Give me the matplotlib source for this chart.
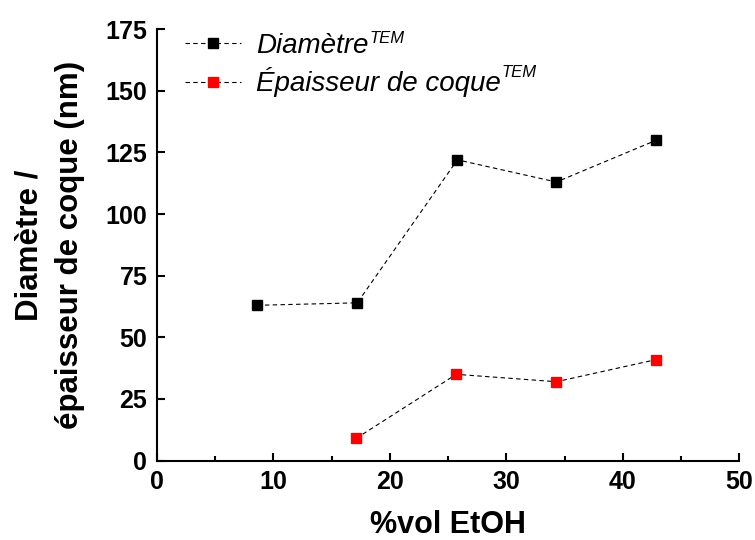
import matplotlib
matplotlib.use("Agg")
import matplotlib.pyplot as plt

plt.rcParams['font.family'] = ['Liberation Sans', 'DejaVu Sans']

# data
etoh_diam = [8.6, 17.2, 25.8, 34.3, 42.9]
diametre = [63, 64, 122, 113, 130]
etoh_coque = [17.1, 25.7, 34.3, 42.9]
epaisseur = [9, 35, 32, 41]

labels = ['Diamètre', 'Épaisseur de coque']
sup = 'TEM'

fig = plt.figure(figsize=(7.55, 5.4), dpi=100)
ax = fig.add_axes([0.208, 0.147, 0.771, 0.799])

ax.plot(etoh_diam, diametre, linestyle=(0, (4, 3)), color='black', lw=0.8,
        marker='s', markersize=7, markerfacecolor='black', markeredgecolor='black',
        label=labels[0])
ax.plot(etoh_coque, epaisseur, linestyle=(0, (4, 3)), color='black', lw=0.8,
        marker='s', markersize=7, markerfacecolor='red', markeredgecolor='red',
        label=labels[1])

ax.set_xlim(0, 50)
ax.set_ylim(0, 175)
ax.set_xticks([0, 10, 20, 30, 40, 50])
ax.set_xticks([5, 15, 25, 35, 45], minor=True)
ax.set_yticks([0, 25, 50, 75, 100, 125, 150, 175])

ax.spines['top'].set_visible(False)
ax.spines['right'].set_visible(False)
for s in ['left', 'bottom']:
    ax.spines[s].set_linewidth(1.5)

ax.tick_params(which='major', direction='in', length=6, width=1.5,
               labelsize=18, pad=7)
ax.tick_params(which='minor', direction='in', length=3.5, width=1.5)
for lbl in ax.get_xticklabels() + ax.get_yticklabels():
    lbl.set_fontweight('bold')

ax.set_xlabel('%vol EtOH', fontsize=22, fontweight='bold')
ax.xaxis.set_label_coords(0.5, -0.115)
ax.set_ylabel('Diamètre /\népaisseur de coque (nm)', fontsize=22.5,
              fontweight='bold', linespacing=1.45)
ax.yaxis.set_label_coords(-0.124, 0.5)

leg = ax.legend(loc='upper left', bbox_to_anchor=(0.005, 1.05), frameon=False,
                prop={'size': 20, 'style': 'italic'}, handlelength=2.0,
                handletextpad=0.55, labelspacing=0.32)

# small superscript "TEM" after each legend entry
fig.canvas.draw()
for t in leg.get_texts():
    bb = t.get_window_extent()
    x, y = fig.transFigure.inverted().transform((bb.x1 + 1, bb.y1 + 2))
    fig.text(x, y, sup, fontsize=12, style='italic', ha='left', va='top')

fig.savefig('out.png', dpi=100)
